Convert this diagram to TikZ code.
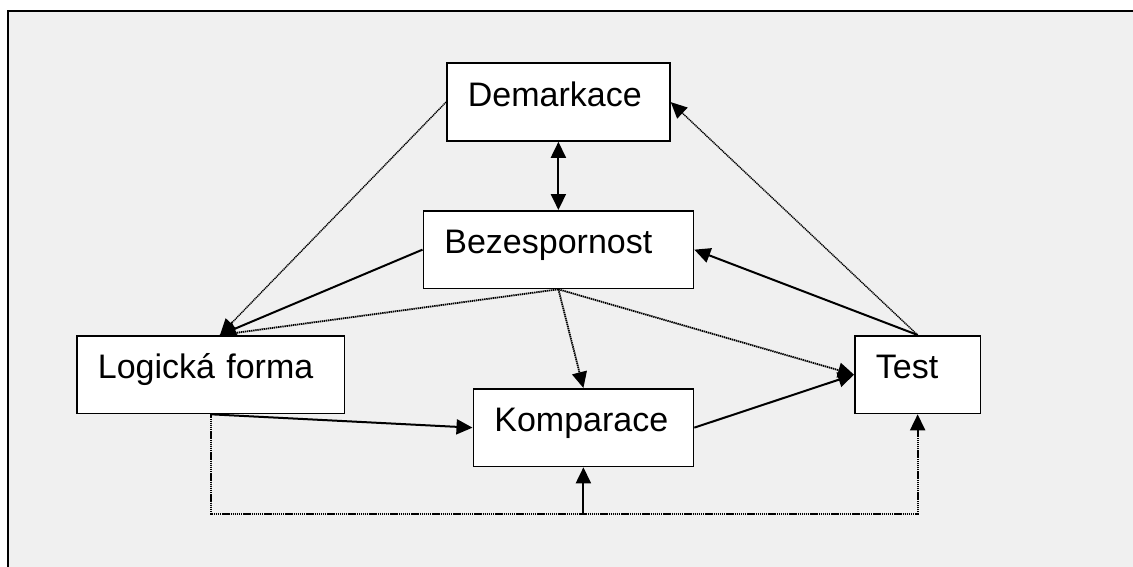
\documentclass[tikz,border=0pt]{standalone}
\usepackage{fontspec}
\setmainfont{Liberation Sans}
\usetikzlibrary{arrows.meta,calc}
\definecolor{panelgray}{HTML}{F0F0F0}
\begin{document}
\begin{tikzpicture}[x=1pt,y=-1pt,
  stepbox/.style={draw, line width=1.8pt, fill=white, anchor=north west,
    inner xsep=21pt, inner ysep=0pt, align=left,
    text height=43pt, text depth=34.5pt, font=\fontsize{34}{40}\selectfont},
  solidlink/.style={line width=2pt},
  dotlink/.style={line width=1.8pt, dash pattern=on 1.4pt off 0.7pt},
  finedotlink/.style={line width=1.4pt, dash pattern=on 1.2pt off 0.7pt},
  headed/.style={-{Triangle[length=16pt,width=15pt]}},
  twoheaded/.style={{Triangle[length=16pt,width=15pt]}-{Triangle[length=16pt,width=15pt]}},
]
\useasboundingbox (0,0) rectangle (1133,567);
\clip (0,0) rectangle (1133,567);

% framed grey panel
\draw[line width=2pt, fill=panelgray] (7.5,11) rectangle (1150,590);

% boxes
\node[stepbox, text width=181pt]   (dem)  at (446,62.5)   {Demarkace};
\node[stepbox, text width=228pt]   (bez)  at (422.5,210)  {Bezespornost};
\node[stepbox, text width=225.5pt] (log)  at (76,335)     {Logická forma};
\node[stepbox, text width=178pt]   (komp) at (472.5,388)  {Komparace};
\node[stepbox, text width=83.5pt]  (test) at (854,335)    {Test};

% meeting points
\coordinate (logIn) at ($(log.north west)+(144,0)$);
\coordinate (loopJ) at ($(log.south)+(0,99.8)$);
\coordinate (kompIn) at (komp.south |- loopJ);

% connectors
\draw[solidlink, twoheaded] (dem.south) -- (bez.north);
\draw[finedotlink, headed] (dem.west) -- (logIn);
\draw[solidlink, headed] (bez.west) -- (logIn);
\draw[dotlink] (bez.south) -- (logIn);
\draw[dotlink, headed] (bez.south) -- (komp.north);
\draw[dotlink, headed] (bez.south) -- (test.west);
\draw[solidlink, headed] (komp.east) -- (test.west);
\draw[solidlink, headed] (test.north) -- (bez.east);
\draw[finedotlink, headed] (test.north) -- (dem.east);
\draw[solidlink, headed] (log.south) -- (komp.west);
\draw[dotlink, headed] (log.south) -- (loopJ) -| (test.south);
\draw[solidlink, headed] (kompIn) -- (komp.south);
\end{tikzpicture}
\end{document}
